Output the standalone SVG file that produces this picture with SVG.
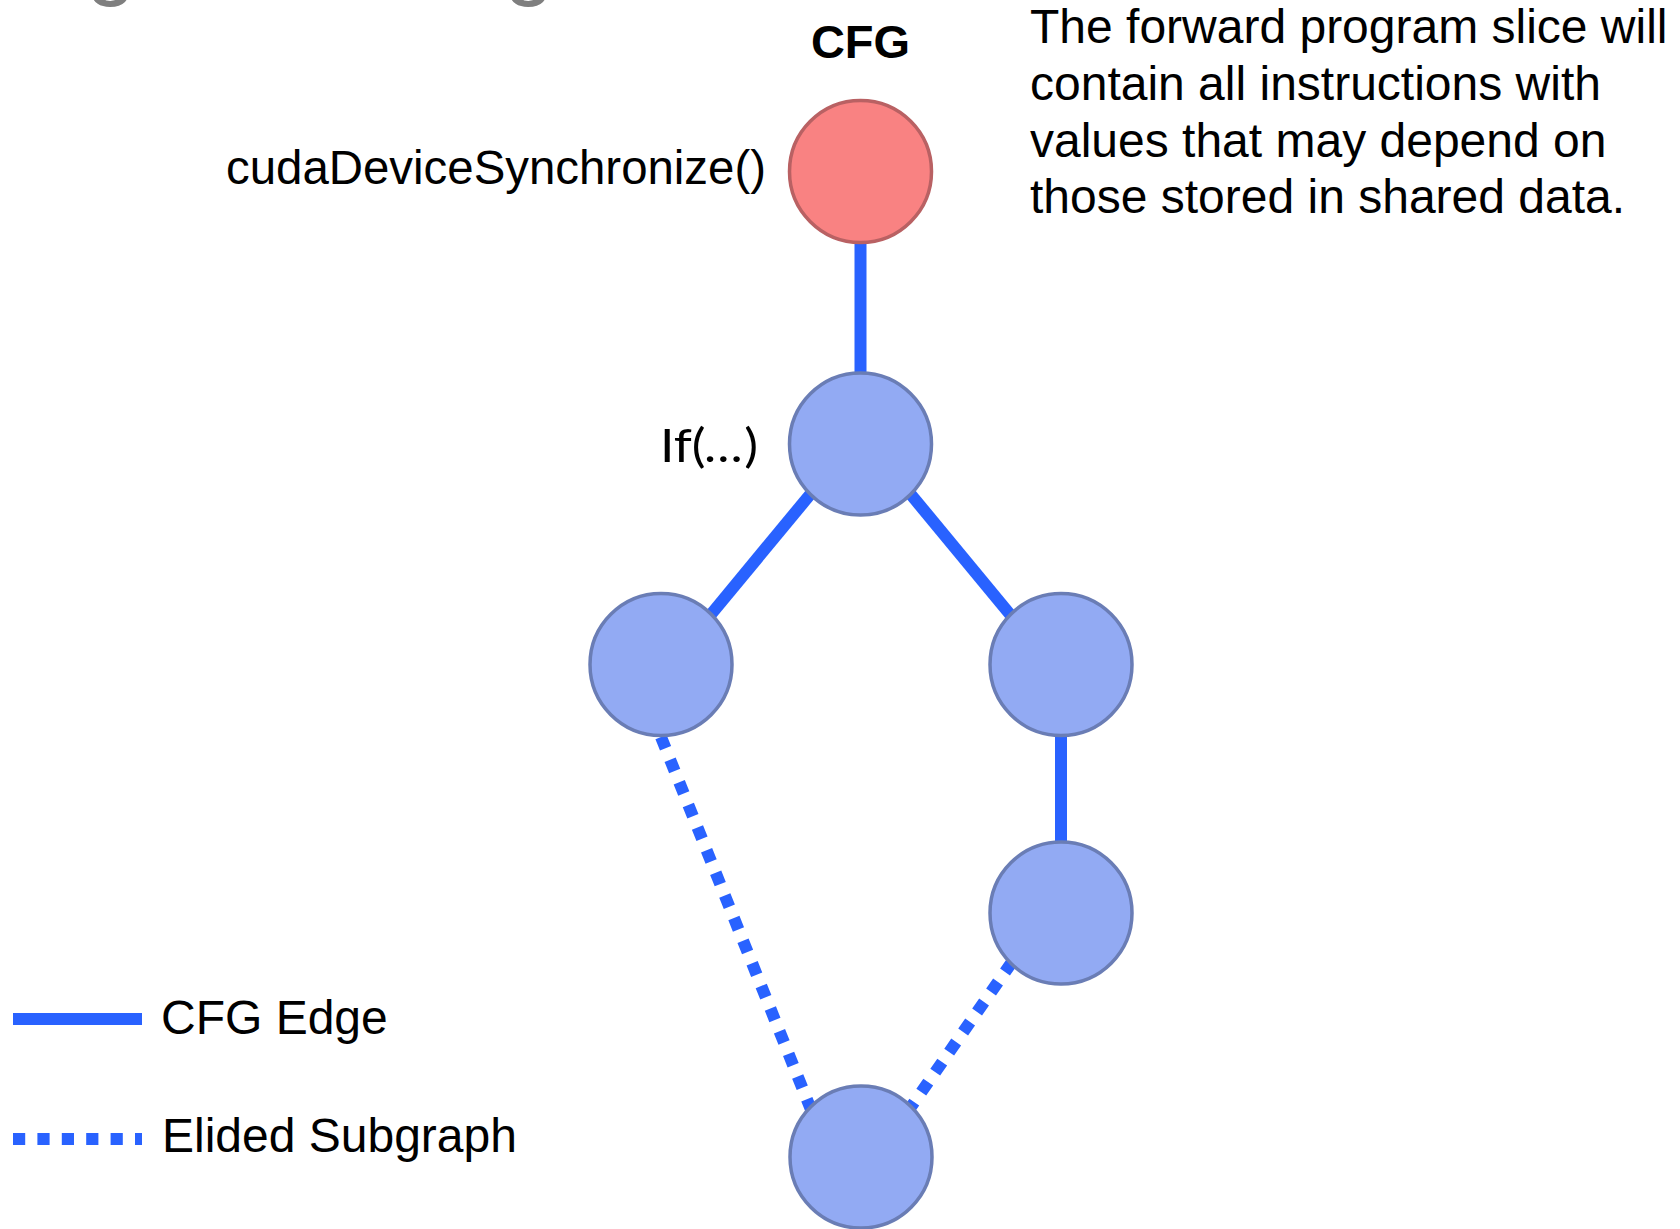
<svg xmlns="http://www.w3.org/2000/svg" width="1680" height="1229" viewBox="0 0 1680 1229">
  <style>
    .lbl { font-family: "Liberation Sans", Arial, sans-serif; font-size: 48px; fill: #000; }
    .title { font-family: "Liberation Sans", Arial, sans-serif; font-size: 47px; font-weight: bold; fill: #000; }
    .cond { font-family: Lato, "Open Sans", sans-serif; font-size: 47px; fill: #000; }
    .head { font-family: "Liberation Sans", Arial, sans-serif; font-size: 90px; fill: #7f7f7f; }
    .node { fill: #92aaf3; stroke: #6a7db5; stroke-width: 3.5; }
    .node.entry { fill: #f98282; stroke: #b96163; }
    .edge { stroke: #2962ff; stroke-width: 12; fill: none; }
    .elided { stroke-dasharray: 12.2 12.2; }
  </style>

  <!-- heading descenders running off the top edge -->
  <text class="head" x="86" y="-12">g</text>
  <text class="head" x="504" y="-12">g</text>

  <text class="title" x="860.5" y="58" text-anchor="middle">CFG</text>

  <g id="note">
    <text class="lbl" x="1030" y="43">The forward program slice will</text>
    <text class="lbl" x="1030" y="100">contain all instructions with</text>
    <text class="lbl" x="1030" y="157">values that may depend on</text>
    <text class="lbl" x="1030" y="213">those stored in shared data.</text>
  </g>

  <!-- connectors -->
  <g id="edges">
    <line class="edge" x1="860.5" y1="240" x2="860.5" y2="376"/>
    <line class="edge" x1="813" y1="491" x2="708" y2="618"/>
    <line class="edge" x1="908" y1="491" x2="1013" y2="618"/>
    <line class="edge" x1="1061" y1="730" x2="1061" y2="848"/>
    <line class="edge elided" x1="661" y1="737" x2="812" y2="1112"/>
    <line class="edge elided" x1="1012" y1="962" x2="906" y2="1114"/>
  </g>

  <!-- nodes -->
  <g id="node-sync">
    <circle class="node entry" cx="860.5" cy="171.5" r="71"/>
    <text class="lbl" x="766" y="184" text-anchor="end" font-size="47" textLength="540" lengthAdjust="spacingAndGlyphs">cudaDeviceSynchronize()</text>
  </g>
  <g id="node-if">
    <circle class="node" cx="860.5" cy="444" r="71"/>
    <text class="cond" x="660" y="462" textLength="98" lengthAdjust="spacingAndGlyphs">If(<tspan font-style="italic">…</tspan>)</text>
  </g>
  <g id="node-then">
    <circle class="node" cx="661" cy="664.5" r="71"/>
  </g>
  <g id="node-else">
    <circle class="node" cx="1061" cy="664.5" r="71"/>
  </g>
  <g id="node-else2">
    <circle class="node" cx="1061" cy="913" r="71"/>
  </g>
  <g id="node-join">
    <circle class="node" cx="861" cy="1157" r="71"/>
  </g>

  <!-- legend -->
  <g id="legend">
    <line class="edge" x1="13" y1="1019" x2="142" y2="1019" stroke-width="12.3"/>
    <text class="lbl" x="161" y="1034">CFG Edge</text>
    <line class="edge elided" x1="13" y1="1139" x2="142" y2="1139"/>
    <text class="lbl" x="162" y="1152">Elided Subgraph</text>
  </g>
</svg>
